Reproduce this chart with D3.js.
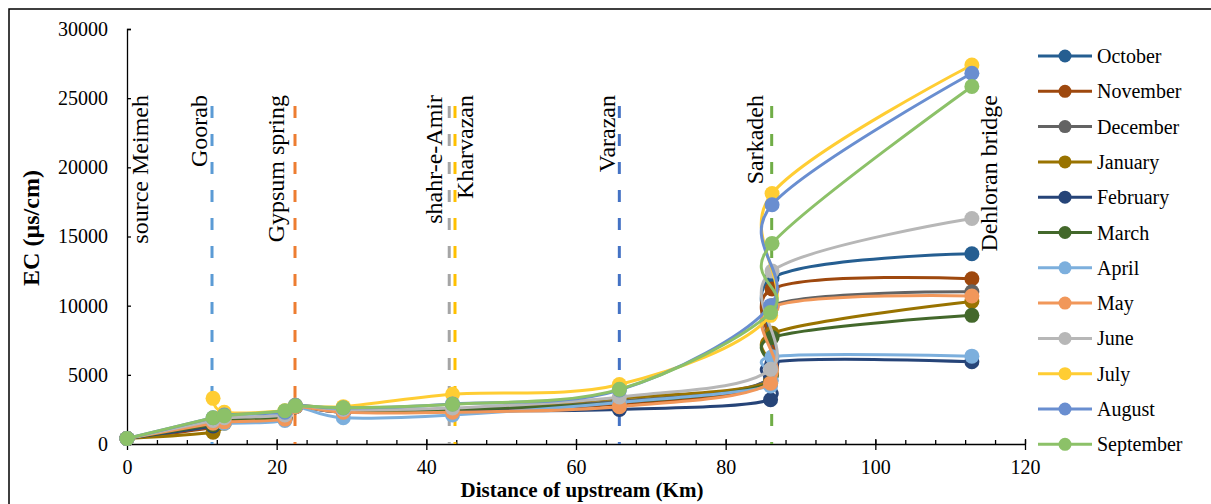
<!DOCTYPE html>
<html>
<head>
<meta charset="utf-8">
<script src="https://cdn.jsdelivr.net/npm/d3@7"></script>
<style>
  body { margin: 0; background: #fff; }
  svg text { font-family: "Liberation Serif", "Times New Roman", serif; fill: #000; }
</style>
</head>
<body>
<div id="chart"></div>
<script>
  var width = 1211;
  var height = 504;

  // distance of each sampling point (km)
  var distances = [0, 11.5, 13.0, 21.1, 22.5, 28.9, 43.5, 65.8, 86.0, 86.2, 112.9];

  var months = ["October", "November", "December", "January", "February", "March",
                "April", "May", "June", "July", "August", "September"];

  // EC values (µs/cm) per month, null = not measured
  var october   = [400, 1500, 1700, 1900, 2700, 2300, 2500, 3000, 4800, 12000, 13750];
  var november  = [400, 1200, 1600, 1800, 2700, 2400, 2500, 2900, 4600, 11200, 11950];
  var december  = [400, 1300, 1700, 1900, 2700, 2400, 2500, 3100, 4700, 10000, 11000];
  var january   = [400,  850, 1500, 1800, 2700, 2400, 2500, 3300, 4500, 8000, 10300];
  var february  = [400, 1300, 1600, 1800, 2700, 2300, 2400, 2500, 3200, 5900, 5950];
  var march     = [400, 1400, 1700, 1900, 2700, 2400, 2500, 3000, 4400, 7700, 9300];
  var april     = [400, 1600, 1500, 1700, 2700, 1900, 2100, 3000, 4200, 6300, 6350];
  var may       = [400, 1500, 1600, 1800, 2700, 2300, 2300, 2700, 4400, 9900, 10700];
  var june      = [400, 1700, 1900, 2100, 2800, 2500, 2600, 3400, 5400, 12500, 16300];
  var july      = [null, 3300, 2300, 2400, 2800, 2700, 3600, 4300, 9300, 18100, 27400];
  var august    = [400, 1900, 2100, 2300, 2800, 2600, 2900, 3900, 10000, 17300, 26800];
  var september = [400, 1900, 2050, 2400, 2770, 2620, 2870, 3950, 9500, 14500, 25850];

  var colors = ["#255E91", "#9E480E", "#636363", "#997300", "#264478", "#43682B",
                "#7CAFDD", "#F1975A", "#B7B7B7", "#FFCD33", "#698ED0", "#8CC168"];

  // sampling stations
  var siteNames = ["source Meimeh", "Goorab", "Gypsum spring", "shahr-e-Amir", "Kharvazan", "Varazan", "Sarkadeh", "Dehloran bridge"];
  var siteKm = [0, 11.36, 22.45, 43.06, 43.83, 65.79, 86.15, 112.9];
  var siteColors = [null, "#5B9BD5", "#ED7D31", "#A5A5A5", "#FFC000", "#4472C4", "#70AD47", null];

  var xTicks = [0, 20, 40, 60, 80, 100, 120];
  var yTicks = [0, 5000, 10000, 15000, 20000, 25000, 30000];

  var allValues = [october, november, december, january, february, march,
                   april, may, june, july, august, september];

  var series = months.map(function(m, i) {
    return { name: m, color: colors[i], values: allValues[i].map(function(v, j) { return { km: distances[j], ec: v }; }) };
  });

  var svg = d3.select("#chart").append("svg").attr("width", width).attr("height", height);

  // outer frame
  svg.append("rect")
    .attr("x", 9).attr("y", 9)
    .attr("width", 1230).attr("height", 520)
    .attr("fill", "none").attr("stroke", "#000").attr("stroke-width", 1.5);

  var x = d3.scaleLinear().domain([0, 120]).range([127, 1025]);
  var y = d3.scaleLinear().domain([0, 30000]).range([444, 29]);

  // Y axis
  var yAxis = svg.append("g")
    .attr("transform", "translate(" + x(0) + ",0)")
    .call(d3.axisRight(y).tickValues(yTicks).tickSize(4).tickFormat(d3.format("d")));
  yAxis.select(".domain").attr("stroke", "#000").attr("stroke-width", 1.3);
  yAxis.selectAll(".tick line").attr("stroke", "#000").attr("stroke-width", 1.3);
  yAxis.selectAll(".tick text")
    .attr("x", -19).attr("text-anchor", "end")
    .style("font-size", "20px");

  // X axis: minor ticks every 4 km pointing in, major ticks cross the line
  var xMinor = svg.append("g")
    .attr("transform", "translate(0," + y(0) + ")")
    .call(d3.axisTop(x).tickValues(d3.range(0, 121, 4)).tickSize(4).tickFormat(""));
  xMinor.select(".domain").remove();
  xMinor.selectAll(".tick line").attr("stroke", "#000").attr("stroke-width", 1.3);

  var xAxis = svg.append("g")
    .attr("transform", "translate(0," + y(0) + ")")
    .call(d3.axisBottom(x).tickValues(xTicks).tickSize(6).tickSizeOuter(0));
  xAxis.select(".domain").attr("stroke", "#000").attr("stroke-width", 1.3);
  xAxis.selectAll(".tick line").attr("y1", -5).attr("stroke", "#000").attr("stroke-width", 1.3);
  xAxis.selectAll(".tick text").attr("y", 16).style("font-size", "20px");

  // axis titles
  svg.append("text")
    .attr("transform", "translate(39," + 228 + ") rotate(-90)")
    .attr("text-anchor", "middle")
    .style("font-size", "24px").style("font-weight", "bold")
    .text("EC (µs/cm)");

  svg.append("text")
    .attr("x", 582).attr("y", 497)
    .attr("text-anchor", "middle")
    .style("font-size", "21px").style("font-weight", "bold")
    .text("Distance of upstream (Km)");

  // station markers (dashed lines)
  siteKm.forEach(function(k, i) {
    if (!siteColors[i]) return;
    svg.append("line")
      .attr("x1", x(k)).attr("x2", x(k))
      .attr("y1", 106).attr("y2", y(0))
      .attr("stroke", siteColors[i]).attr("stroke-width", 3)
      .attr("stroke-dasharray", "12,16");
  });

  // series
  var line = d3.line()
    .defined(function(d) { return d.ec != null; })
    .x(function(d) { return x(d.km); })
    .y(function(d) { return y(d.ec); })
    .curve(d3.curveCatmullRom.alpha(0));

  series.forEach(function(s) {
    var g = svg.append("g");
    g.append("path")
      .attr("d", line(s.values))
      .attr("fill", "none")
      .attr("stroke", s.color)
      .attr("stroke-width", 3);
    g.selectAll("circle")
      .data(s.values.filter(function(d) { return d.ec != null; }))
      .enter()
      .append("circle")
        .attr("cx", function(d) { return x(d.km); })
        .attr("cy", function(d) { return y(d.ec); })
        .attr("r", 7.5)
        .attr("fill", s.color);
  });

  // station labels (drawn after series, rotated)
  var labelDx = [21, -5, -11, -7, 18, -4, -9, 25];
  siteNames.forEach(function(n, i) {
    svg.append("text")
      .attr("transform", "translate(" + (x(siteKm[i]) + labelDx[i]) + ",95) rotate(-90)")
      .attr("text-anchor", "end")
      .style("font-size", "24px")
      .text(n);
  });

  // legend
  var legend = svg.append("g");
  series.forEach(function(s, i) {
    var ly = 56 + i * 35.3;
    legend.append("line")
      .attr("x1", 1038).attr("x2", 1092)
      .attr("y1", ly).attr("y2", ly)
      .attr("stroke", s.color).attr("stroke-width", 3);
    legend.append("circle")
      .attr("cx", 1065).attr("cy", ly).attr("r", 6.5)
      .attr("fill", s.color);
    legend.append("text")
      .attr("x", 1097).attr("y", ly)
      .attr("dy", "0.35em")
      .style("font-size", "20px")
      .text(s.name);
  });
</script>
</body>
</html>
